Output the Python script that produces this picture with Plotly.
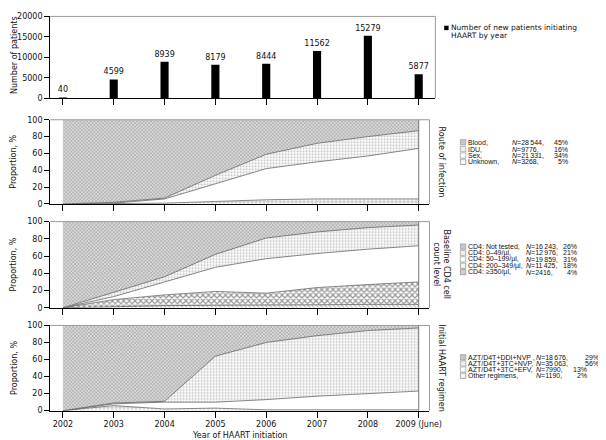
import plotly.graph_objects as go

# ---------------- data ----------------
years = [2002, 2003, 2004, 2005, 2006, 2007, 2008, 2009]
year_labels = ["2002", "2003", "2004", "2005", "2006", "2007", "2008", "2009 (June)"]
new_patients = [40, 4599, 8939, 8179, 8444, 11562, 15279, 5877]

# Route of infection (% of patients initiating HAART each year), bottom -> top
route_unknown = [0, 0.5, 1, 3, 5, 6, 6, 6]
route_sex = [0, 0.5, 5, 21, 37, 44, 51, 60]
route_idu = [0, 1, 1, 10, 17, 22, 23, 21]
route_blood = [100, 98, 93, 66, 41, 28, 20, 13]

# Baseline CD4 count (%), bottom -> top
cd4_350 = [0, 1.5, 2.5, 3, 3, 3.5, 4, 4]
cd4_200_349 = [0, 8, 12.5, 16, 14, 20, 23, 26]
cd4_50_199 = [0, 3.5, 15, 28, 40, 39.5, 41, 42]
cd4_0_49 = [0, 5, 6, 15, 24, 25, 25, 24]
cd4_not_tested = [100, 82, 64, 38, 19, 12, 7, 4]

# Initial HAART regimen (%), bottom -> top
reg_other = [0, 6, 2, 3, 1, 1, 1, 1]
reg_efv = [0, 2, 8, 7, 12, 16, 19, 22]
reg_3tc_nvp = [0, 1, 1, 54, 67, 71, 74, 74]
reg_ddi_nvp = [100, 91, 89, 36, 20, 12, 6, 3]

route_legend = [("Blood,", "N=28\u2009544,", "45%"), ("IDU,", "N=9776,", "16%"),
                ("Sex,", "N=21\u2009331,", "34%"), ("Unknown,", "N=3268,", "5%")]
cd4_legend = [("CD4: Not tested,", "N=16\u2009243,", "26%"), ("CD4: 0\u201349/\u00b5l,", "N=12\u2009976,", "21%"),
              ("CD4: 50\u2013199/\u00b5l,", "N=19\u2009859,", "31%"), ("CD4: 200\u2013349/\u00b5l,", "N=11\u2009425,", "18%"),
              ("CD4: \u2265350/\u00b5l,", "N=2416,", "4%")]
reg_legend = [("AZT/D4T+DDI+NVP ,", "N=18\u2009676,", "29%"), ("AZT/D4T+3TC+NVP,", "N=35\u2009063,", "56%"),
              ("AZT/D4T+3TC+EFV,", "N=7990,", "13%"), ("Other regimens,", "N=1190,", "2%")]

# ---------------- helpers ----------------
W, H = 606, 440
FONT = "DejaVu Sans, Verdana, sans-serif"
LFONT = "Liberation Sans, Arial, sans-serif"


def X(p):
    return p / W


def Y(p):
    return 1 - p / H


# fill styles
GREY = dict(shape="x", size=2.5, solidity=0.5, fgcolor="#808080", bgcolor="#dadada")
DOTS = dict(shape=".", size=3, solidity=0.35, fgcolor="#808080", bgcolor="#ffffff")
WHITE = dict(shape="", fgcolor="#ffffff", bgcolor="#ffffff")
PLUS = dict(shape="+", size=4, solidity=0.3, fgcolor="#444444", bgcolor="#ffffff")
XDARK = dict(shape="x", size=4, solidity=0.5, fgcolor="#2a2a2a", bgcolor="#ffffff")
DIAG = dict(shape="\\", size=3, solidity=0.4, fgcolor="#666666", bgcolor="#ffffff")

fig = go.Figure()

# top bars
fig.add_trace(go.Bar(x=years, y=new_patients, width=0.16, marker=dict(color="black", line=dict(width=0)),
                     text=[str(v) for v in new_patients], textposition="outside", cliponaxis=False,
                     constraintext="none",
                     textfont=dict(size=8, color="#111", family=FONT), xaxis="x", yaxis="y"))


def add_stack(values, pattern, group, ax, ay, top=False):
    fig.add_trace(go.Scatter(x=years, y=values, stackgroup=group, mode="lines",
                             line=dict(color="#555555", width=0 if top else 0.7),
                             fillcolor=pattern["bgcolor"], fillpattern=pattern,
                             xaxis=ax, yaxis=ay, hoverinfo="skip"))


add_stack(route_unknown, PLUS, "r", "x2", "y2")
add_stack(route_sex, WHITE, "r", "x2", "y2")
add_stack(route_idu, DOTS, "r", "x2", "y2")
add_stack(route_blood, GREY, "r", "x2", "y2", top=True)

add_stack(cd4_350, DIAG, "c", "x3", "y3")
add_stack(cd4_200_349, XDARK, "c", "x3", "y3")
add_stack(cd4_50_199, WHITE, "c", "x3", "y3")
add_stack(cd4_0_49, DOTS, "c", "x3", "y3")
add_stack(cd4_not_tested, GREY, "c", "x3", "y3", top=True)

add_stack(reg_other, PLUS, "g", "x4", "y4")
add_stack(reg_efv, WHITE, "g", "x4", "y4")
add_stack(reg_3tc_nvp, DOTS, "g", "x4", "y4")
add_stack(reg_ddi_nvp, GREY, "g", "x4", "y4", top=True)

tickfont = dict(size=8, color="#111", family=FONT)
xcommon = dict(tickmode="array", tickvals=years, ticktext=year_labels, ticks="outside", ticklen=6,
               tickcolor="black", showline=True, linecolor="black", linewidth=1, showgrid=False,
               zeroline=False, tickfont=tickfont, fixedrange=True)
ycommon = dict(ticks="outside", ticklen=5, tickcolor="black", showline=True, linecolor="black",
               linewidth=1, showgrid=False, zeroline=False, tickfont=tickfont, fixedrange=True)

left = 2002 - 13 / 51.86
panels = {  # name: (y0 px, y1 px)
    "2": (196, 110),
    "3": (302, 214),
    "4": (407, 320),
}

layout = dict(
    width=W, height=H, margin=dict(l=0, r=0, t=0, b=0), showlegend=False,
    paper_bgcolor="white", plot_bgcolor="white", font=dict(family=FONT, size=8, color="#111"),
    xaxis=dict(domain=[X(43), X(436)], range=[left, 2009 + 17 / 51.86], anchor="y",
               showticklabels=False, **xcommon),
    yaxis=dict(domain=[Y(88), Y(4.5)], range=[0, 20000], tickvals=[0, 5000, 10000, 15000, 20000],
               tickformat="d", anchor="x", **ycommon),
)
for k, (b, t) in panels.items():
    layout["xaxis" + k] = dict(domain=[X(43), X(430)], range=[left, 2009 + 11 / 51.86], anchor="y" + k,
                               showticklabels=(k == "4"), **xcommon)
    layout["yaxis" + k] = dict(domain=[Y(b), Y(t)], range=[0, 100], tickvals=[0, 20, 40, 60, 80, 100],
                               anchor="x" + k, **ycommon)
fig.update_layout(**layout)

shapes = []
border = dict(color="#9a9a9a", width=1)
# top panel borders
shapes.append(dict(type="line", xref="x domain", yref="y domain", x0=0, x1=1, y0=1, y1=1, line=border))
shapes.append(dict(type="line", xref="x domain", yref="y domain", x0=1, x1=1, y0=0, y1=1, line=border))
for k in panels:
    shapes.append(dict(type="line", xref=f"x{k} domain", yref=f"y{k} domain", x0=0, x1=1, y0=1, y1=1, line=border))
    shapes.append(dict(type="line", xref=f"x{k} domain", yref=f"y{k} domain", x0=1, x1=1, y0=0, y1=1, line=border))
    shapes.append(dict(type="line", xref=f"x{k}", yref=f"y{k} domain", x0=2009, x1=2009, y0=0, y1=1,
                       line=dict(color="#777777", width=1)))

annotations = []


def ann(x, y, text, size=8, xanchor="center", angle=0, color="#111", family=FONT):
    annotations.append(dict(x=X(x), y=Y(y), xref="paper", yref="paper", text=text, showarrow=False,
                            xanchor=xanchor, yanchor="middle", textangle=angle,
                            font=dict(size=size, family=family, color=color), borderpad=0))


# axis titles
ann(6, 44, "Number of patients", angle=-90)
for k, (b, t) in panels.items():
    ann(6, (b + t) / 2, "Proportion, %", angle=-90)
ann(236, 432, "Year of HAART initiation")
ann(442, 153, "Route of infection", angle=90)
ann(442, 258, "Baseline CD4 cell<br>count level", angle=90)
ann(442, 363, "Initial HAART regimen", angle=90)

# top legend
shapes.append(dict(type="rect", xref="paper", yref="paper", x0=X(445), x1=X(449.5), y0=Y(18.5), y1=Y(14)),
              )
shapes[-1].update(fillcolor="black", line=dict(width=0))
ann(451, 16, "Number of new patients initiating", size=7.5, xanchor="left")
ann(451, 24, "HAART by year", size=7.5, xanchor="left")

sym_fill = {"grey": ("#c6c6c6", "#9a9a9a"), "dots": ("#eeeeee", "#9a9a9a"), "white": ("#ffffff", "#9a9a9a"),
            "plus": ("#f4f4f4", "#8a8a8a"), "x": ("#d0d0d0", "#8a8a8a")}

LS = 7


def legend(rows, ys, styles, nx, px):
    for (name, n, pct), yy, st, p in zip(rows, ys, styles, px):
        fc, lc = sym_fill[st]
        shapes.append(dict(type="rect", xref="paper", yref="paper", x0=X(461.5), x1=X(467),
                           y0=Y(yy + 2.7), y1=Y(yy - 2.7), fillcolor=fc, line=dict(color=lc, width=0.7)))
        ann(468, yy, name, size=LS, xanchor="left", family=LFONT)
        ann(nx, yy, "<i>N</i>" + n[1:], size=LS, xanchor="left", family=LFONT)
        ann(p, yy, pct, size=LS, xanchor="right", family=LFONT)


legend(route_legend, [133, 140, 146.5, 153], ["grey", "dots", "white", "plus"], 513, [572] * 4)
legend(cd4_legend, [239.5, 246, 252.5, 259, 265.5], ["grey", "dots", "white", "plus", "x"], 527, [582] * 5)
legend(reg_legend, [352.5, 358.8, 365, 371.3], ["grey", "dots", "white", "plus"], 538, [604, 604, 592, 592])

fig.update_layout(shapes=shapes, annotations=annotations)
fig.write_html("out.html")
